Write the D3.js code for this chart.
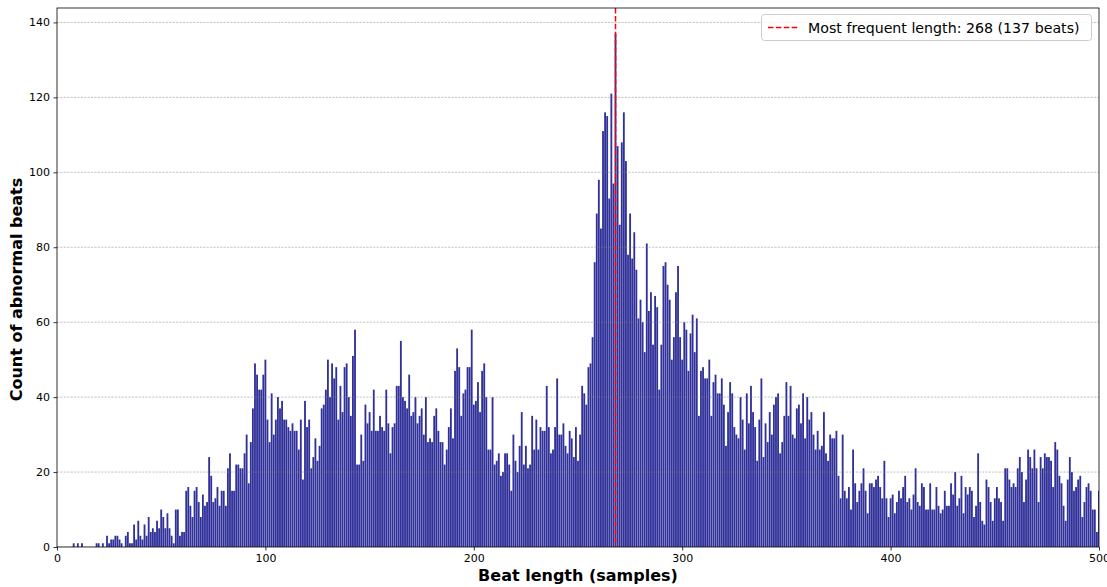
<!DOCTYPE html>
<html>
<head>
<meta charset="utf-8">
<script src="https://cdn.jsdelivr.net/npm/d3@7"></script>
<style>
  html, body { margin: 0; padding: 0; background: #fff; }
  svg { display: block; font-family: "DejaVu Sans", sans-serif; }
</style>
</head>
<body>
<svg id="chart" width="1107" height="587"></svg>
<script>
// Beat lengths (samples) 0..500 and the count of abnormal beats at each length
const lengthStart = 0;
const counts = [
  0,0,0,0,0,0,0,0,1,0, 1,0,1,0,0,0,0,0,0,1,
  1,0,1,0,3,1,2,2,3,3, 2,1,0,3,4,1,1,6,2,7,
  3,2,6,3,8,4,5,4,7,5, 10,8,5,9,5,3,1,10,10,3,
  4,4,15,16,11,8,15,16,12,8, 14,11,12,24,19,12,13,16,11,15,
  15,11,21,25,15,15,22,22,21,21, 25,30,17,28,37,49,46,42,42,46,
  50,34,28,41,30,34,40,37,39,34, 34,32,31,33,31,31,26,34,18,39,
  32,34,21,24,29,23,27,37,38,42, 50,40,49,45,48,34,43,36,48,49,
  40,35,51,58,22,22,30,23,38,33, 36,31,42,31,31,35,32,31,42,33,
  25,32,33,43,43,55,40,39,37,46, 35,36,40,33,35,37,30,40,28,29,
  28,35,37,31,28,28,22,26,32,37, 29,47,53,48,35,41,42,48,48,58,
  38,39,44,36,47,49,40,26,26,40, 22,23,25,19,20,25,25,22,15,30,
  23,20,27,36,22,27,21,22,35,26, 34,26,32,31,31,43,32,25,26,32,
  45,30,30,33,27,25,31,29,24,32, 23,30,43,41,38,48,49,56,76,89,
  98,85,111,116,115,93,121,97,137,107, 86,108,116,103,78,89,77,84,74,61,
  66,60,52,81,63,68,54,67,64,42, 54,75,76,70,66,50,56,68,75,56,
  50,60,58,47,57,62,52,61,35,47, 48,45,45,50,35,44,46,41,41,45,
  38,27,36,44,41,32,30,29,40,34, 26,41,33,43,36,32,23,34,45,24,
  33,28,36,30,38,40,41,25,28,35, 44,35,43,30,29,37,38,33,41,29,
  40,34,36,30,26,31,26,27,36,25, 23,30,29,29,31,19,13,30,15,13,
  16,10,26,17,12,15,17,21,15,9, 17,17,16,18,19,16,13,23,13,8,
  13,14,9,12,15,13,16,19,12,13, 10,14,21,12,11,17,16,10,10,17,
  10,10,16,11,9,10,15,11,11,17, 14,20,11,13,19,9,16,14,16,15,
  8,11,25,12,7,6,18,16,12,7, 13,16,13,12,7,21,21,18,16,17,
  16,21,24,20,12,18,26,24,21,26, 21,12,24,21,25,24,24,23,16,28,
  26,19,17,11,7,18,24,20,15,16, 18,19,8,12,16,17,15,10,10,4,
  15
];
const xTicks = [0, 100, 200, 300, 400, 500];
const yTicks = [0, 20, 40, 60, 80, 100, 120, 140];
const modeLength = 268;
const modeCount = 137;
const legendText = `Most frequent length: ${modeLength} (${modeCount} beats)`;

const bars = counts.map((c, i) => ({ len: lengthStart + i, count: c }));

const svg = d3.select("#chart");
const margin = { left: 57, right: 8, top: 8, bottom: 40 };
const W = 1107, H = 587;
const plotW = W - margin.left - margin.right;
const plotH = H - margin.top - margin.bottom;

const x = d3.scaleLinear().domain([0, 500]).range([margin.left, margin.left + plotW]);
const y = d3.scaleLinear().domain([0, modeCount * 1.05]).range([margin.top + plotH, margin.top]);
const barW = (x(1) - x(0)) * 0.88;

svg.append("defs").append("clipPath").attr("id", "plotClip")
  .append("rect").attr("x", margin.left).attr("y", margin.top)
  .attr("width", plotW).attr("height", plotH);

const plot = svg.append("g").attr("clip-path", "url(#plotClip)");

// bars
plot.append("g").selectAll("rect").data(bars.filter(d => d.count > 0)).join("rect")
  .attr("x", d => x(d.len) - barW / 2)
  .attr("y", d => y(d.count))
  .attr("width", barW)
  .attr("height", d => y(0) - y(d.count))
  .attr("fill", "#30309a");

// horizontal grid
plot.append("g").selectAll("line").data(yTicks).join("line")
  .attr("x1", margin.left).attr("x2", margin.left + plotW)
  .attr("y1", d => y(d)).attr("y2", d => y(d))
  .attr("stroke", "#808080").attr("stroke-opacity", 0.6)
  .attr("stroke-width", 0.8).attr("stroke-dasharray", "2.2,1.2");

// most frequent length marker
plot.append("line")
  .attr("x1", x(modeLength)).attr("x2", x(modeLength))
  .attr("y1", margin.top).attr("y2", margin.top + plotH)
  .attr("stroke", "#ff0000").attr("stroke-width", 1.5)
  .attr("stroke-dasharray", "5.5,2.4");

// axes
const xAxis = svg.append("g").attr("transform", `translate(0,${margin.top + plotH})`)
  .call(d3.axisBottom(x).tickValues(xTicks).tickSizeOuter(0).tickSize(3.5).tickPadding(3.5));
const yAxis = svg.append("g").attr("transform", `translate(${margin.left},0)`)
  .call(d3.axisLeft(y).tickValues(yTicks).tickSizeOuter(0).tickSize(3.5).tickPadding(3.5));
[xAxis, yAxis].forEach(a => {
  a.select(".domain").remove();
  a.selectAll(".tick line").attr("stroke", "#000").attr("stroke-width", 0.8);
  a.selectAll(".tick text").attr("font-size", 11).attr("fill", "#000")
    .attr("font-family", "DejaVu Sans, sans-serif");
});

// frame
svg.append("rect").attr("x", margin.left).attr("y", margin.top)
  .attr("width", plotW).attr("height", plotH)
  .attr("fill", "none").attr("stroke", "#000").attr("stroke-width", 0.8);

// axis titles
svg.append("text").attr("x", margin.left + plotW / 2).attr("y", 581)
  .attr("text-anchor", "middle").attr("font-size", 16).attr("font-weight", "bold")
  .text("Beat length (samples)");
svg.append("text")
  .attr("transform", `translate(22,${margin.top + plotH / 2 + 12}) rotate(-90)`)
  .attr("text-anchor", "middle").attr("font-size", 16).attr("font-weight", "bold")
  .text("Count of abnormal beats");

// legend
const lg = svg.append("g");
lg.append("rect").attr("x", 761.5).attr("y", 14.5).attr("width", 330).attr("height", 26)
  .attr("rx", 3).attr("fill", "#fff").attr("fill-opacity", 0.8)
  .attr("stroke", "#cccccc").attr("stroke-width", 1);
lg.append("line").attr("x1", 768).attr("x2", 798).attr("y1", 27.5).attr("y2", 27.5)
  .attr("stroke", "#ff0000").attr("stroke-width", 1.5).attr("stroke-dasharray", "5.5,2.4");
lg.append("text").attr("x", 808).attr("y", 32.5).attr("font-size", 14.2).attr("fill", "#000")
  .text(legendText);
</script>
</body>
</html>
